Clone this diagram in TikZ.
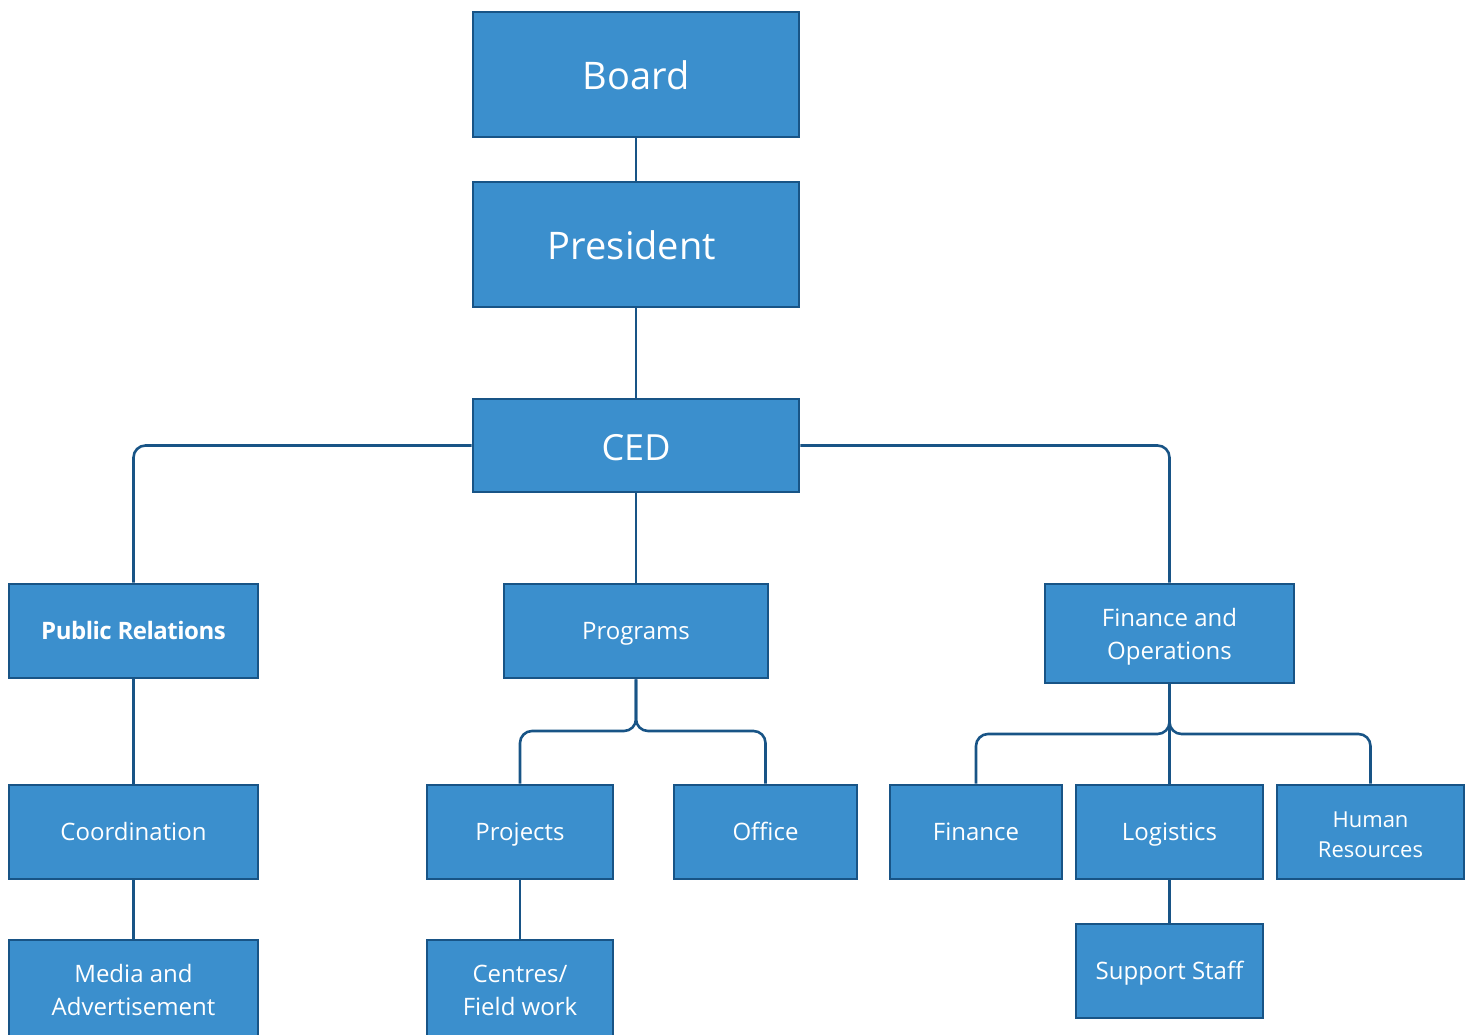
\documentclass[tikz,border=0pt]{standalone}
\usepackage{fontspec}
\setmainfont{Open Sans}
\definecolor{boxfill}{RGB}{59,143,205}
\definecolor{boxline}{RGB}{24,84,134}
\begin{document}
\begin{tikzpicture}[x=1pt,y=-1pt,
  box/.style={draw=boxline,fill=boxfill,line width=2.6pt,text=white,align=center,inner sep=0pt,font=\fontsize{24}{33}\selectfont},
  one/.style={text height=17pt,text depth=0pt},
  onebig/.style={text height=30pt,text depth=0pt},
  big/.style={font=\fontsize{38}{44}\selectfont},
  conn/.style={draw=boxline,line width=2.6pt,rounded corners=12pt}]
\useasboundingbox (0,0) rectangle (1470,1035);
\clip (0,0) rectangle (1470,1035);
\node[box,big,onebig,minimum width=326,minimum height=125] (board) at (636,74.5) {Board};
\node[box,big,onebig,minimum width=326,minimum height=125] (pres) at (636,244.5) {President\hspace*{8pt}};
\node[box,onebig,font=\fontsize{36}{40}\selectfont,minimum width=326,minimum height=93] (ced) at (636,445.5) {CED};
\node[box,one,minimum width=249,minimum height=94,font=\fontsize{24}{33}\selectfont\bfseries\addfontfeature{LetterSpace=-2}] (pr) at (133.5,631) {Public Relations};
\node[box,one,minimum width=264,minimum height=94] (prog) at (636,631) {Programs};
\node[box,minimum width=249,minimum height=99] (fo) at (1169.5,633.5) {\rule{0pt}{24pt}Finance and\\Operations};
\node[box,one,minimum width=249,minimum height=94] (coord) at (133.5,832) {Coordination};
\node[box,one,minimum width=186,minimum height=94] (proj) at (520,832) {Projects};
\node[box,one,minimum width=183,minimum height=94] (office) at (765.5,832) {Office};
\node[box,one,minimum width=172,minimum height=94] (fin) at (976,832) {Finance};
\node[box,one,minimum width=187,minimum height=94] (log) at (1169.5,832) {Logistics};
\node[box,minimum width=187,minimum height=94,font=\fontsize{22}{30}\selectfont] (hr) at (1370.5,832) {\rule{0pt}{21pt}Human\\Resources};
\node[box,minimum width=249,minimum height=100] (media) at (133.5,990) {Media and\\Advertisement};
\node[box,minimum width=186,minimum height=100] (centres) at (520,990) {Centres/\\Field work};
\node[box,one,minimum width=187,minimum height=94] (support) at (1169.5,971) {Support Staff};
% connectors
\draw[conn] (board.south) -- (pres.north);
\draw[conn] (pres.south) -- (ced.north);
\draw[conn] (ced.west) -| (pr.north);
\draw[conn] (ced.east) -| (fo.north);
\draw[conn] (ced.south) -- (prog.north);
\draw[conn] (proj.north) -- (proj.north |- 0,731) -- (prog.south |- 0,731) -- (prog.south);
\draw[conn] (office.north) -- (office.north |- 0,731) -- (prog.south |- 0,731) -- (prog.south);
\draw[conn] (fin.north) -- (fin.north |- 0,734) -- (fo.south |- 0,734) -- (fo.south);
\draw[conn] (hr.north) -- (hr.north |- 0,734) -- (fo.south |- 0,734) -- (fo.south);
\draw[conn] (fo.south) -- (log.north);
\draw[conn] (pr.south) -- (coord.north);
\draw[conn] (coord.south) -- (media.north);
\draw[conn] (proj.south) -- (centres.north);
\draw[conn] (log.south) -- (support.north);
\end{tikzpicture}
\end{document}
